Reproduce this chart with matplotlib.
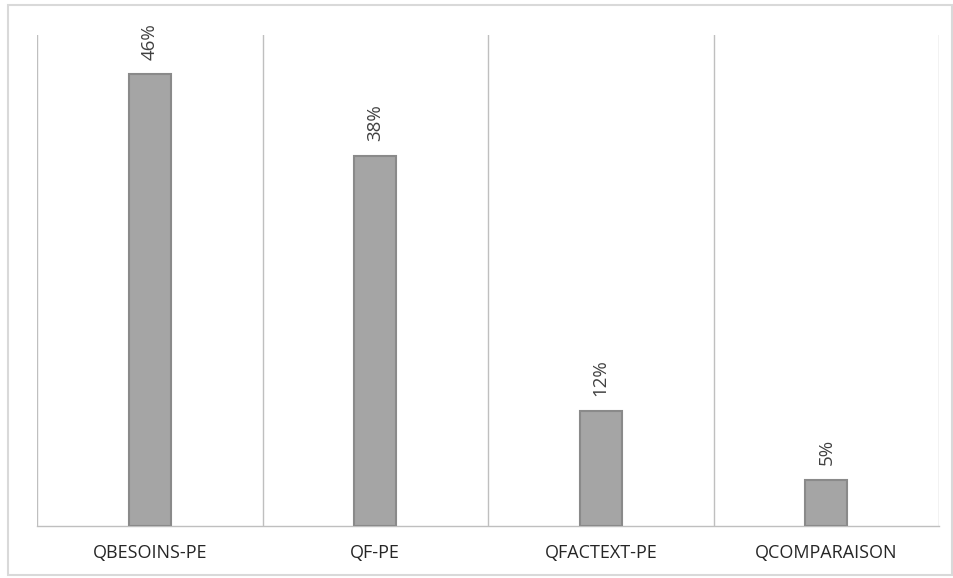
import matplotlib.pyplot as plt
from matplotlib.patches import Rectangle

# data (share of answers)
categories = ["QBESOINS-PE", "QF-PE", "QFACTEXT-PE", "QCOMPARAISON"]
values = [0.46, 0.377, 0.117, 0.047]
labels = ["46%", "38%", "12%", "5%"]

plt.rcParams['font.family'] = ['Open Sans', 'DejaVu Sans']

fig = plt.figure(figsize=(9.54, 5.78), dpi=100)
ax = fig.add_axes([0.0388, 0.09, 0.9455, 0.8494])

# light grey frame around the whole chart
fig.patches.append(Rectangle((8 / 954, 3 / 578), 944 / 954, 570 / 578,
                             transform=fig.transFigure, fill=False,
                             edgecolor='#d9d9d9', linewidth=1.5))

x = range(len(categories))
ax.bar(x, values, width=0.186, color='#a5a5a5', edgecolor='#8a8a8a', linewidth=1.5, zorder=3)

for i, v in enumerate(values):
    ax.text(i, v + 0.015, labels[i], rotation=90, ha='center', va='bottom',
            fontsize=13.5, color='#404040')

# vertical separators between categories
for b in [-0.5, 0.5, 1.5, 2.5, 3.5]:
    ax.axvline(b, color='#bfbfbf', linewidth=1, zorder=1)

ax.set_xlim(-0.5, 3.5)
ax.set_ylim(0, 0.5)
ax.set_xticks(list(x))
ax.set_xticklabels(categories, fontsize=13, color='#262626')
ax.tick_params(axis='x', length=0, pad=13)
ax.set_yticks([])
for s in ['top', 'left', 'right']:
    ax.spines[s].set_visible(False)
ax.spines['bottom'].set_color('#bfbfbf')
ax.spines['bottom'].set_linewidth(1)

fig.savefig('out.png', dpi=100)
